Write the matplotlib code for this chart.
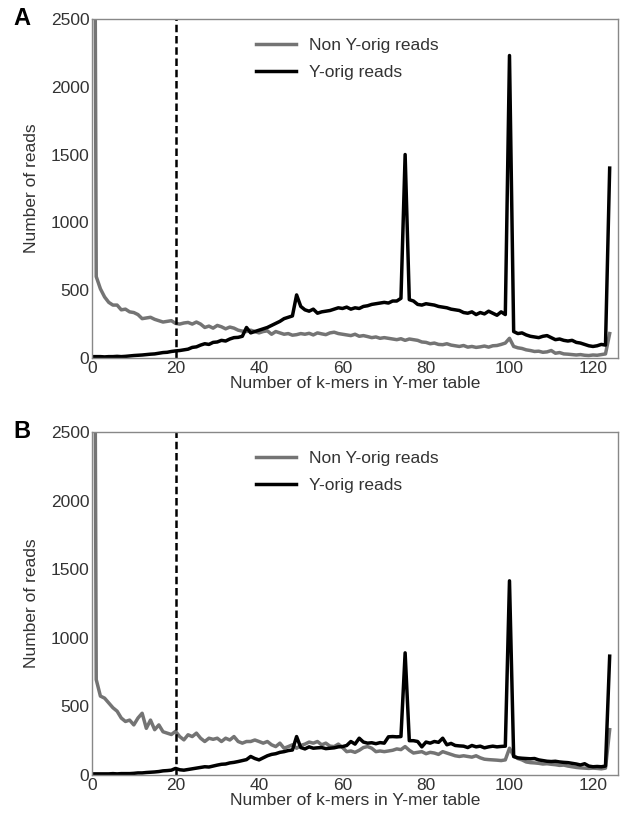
import numpy as np
import matplotlib.pyplot as plt

plt.rcParams['font.family'] = ['Liberation Sans', 'DejaVu Sans']

kmers = np.arange(0, 125)

# panel A
a_non_y = [9000, 600, 510, 450, 410, 390, 390, 355, 360, 340,
           335, 320, 290, 295, 300, 285, 275, 265, 270, 275,
           255, 250, 258, 262, 250, 265, 250, 225, 235, 220,
           240, 230, 215, 228, 220, 205, 198, 195, 205, 195,
           185, 195, 200, 175, 195, 185, 175, 180, 168, 172,
           180, 175, 182, 170, 185, 178, 172, 185, 190, 180,
           175, 170, 165, 175, 160, 165, 158, 150, 155, 145,
           150, 145, 140, 135, 142, 130, 140, 135, 130, 118,
           115, 105, 110, 100, 98, 105, 95, 90, 85, 92,
           80, 85, 78, 82, 88, 80, 90, 92, 100, 110,
           145, 85, 75, 70, 60, 55, 48, 50, 42, 45,
           55, 35, 40, 30, 28, 25, 22, 25, 20, 18,
           22, 20, 25, 30, 180]
a_y_orig = [10, 10, 10, 8, 10, 10, 12, 10, 12, 15,
            18, 20, 22, 25, 28, 30, 35, 40, 42, 48,
            52, 55, 60, 65, 78, 82, 95, 105, 100, 115,
            118, 130, 125, 140, 150, 152, 160, 225, 185, 195,
            205, 215, 225, 240, 255, 270, 290, 300, 310, 465,
            380, 355, 345, 360, 330, 340, 345, 350, 360, 370,
            365, 375, 360, 370, 365, 380, 385, 395, 400, 405,
            410, 405, 420, 420, 440, 1500, 430, 420, 395, 390,
            400, 395, 390, 380, 375, 370, 360, 355, 350, 335,
            330, 340, 320, 335, 325, 345, 330, 315, 340, 320,
            2230, 195, 180, 185, 170, 160, 155, 150, 160, 165,
            150, 135, 140, 130, 125, 130, 115, 110, 100, 90,
            85, 90, 100, 95, 1400]

# panel B
b_non_y = [9000, 695, 575, 560, 525, 490, 465, 415, 390, 400,
           365, 415, 450, 340, 400, 330, 365, 315, 305, 295,
           318, 280, 256, 293, 280, 305, 268, 244, 268, 260,
           268, 244, 268, 255, 280, 244, 232, 244, 244, 255,
           244, 232, 244, 220, 207, 232, 195, 207, 220, 195,
           215, 225, 240, 232, 244, 220, 232, 210, 207, 225,
           200, 170, 175, 165, 180, 200, 207, 195, 170, 175,
           170, 175, 180, 190, 185, 207, 180, 160, 165, 170,
           155, 165, 160, 150, 170, 160, 150, 140, 135, 140,
           135, 130, 140, 125, 115, 112, 110, 108, 105, 110,
           195, 140, 120, 110, 95, 90, 88, 85, 80, 82,
           78, 75, 70, 72, 65, 60, 55, 52, 50, 48,
           50, 48, 45, 50, 330]
b_y_orig = [8, 8, 8, 8, 8, 10, 8, 10, 10, 10,
            12, 15, 15, 18, 20, 22, 25, 30, 32, 35,
            48, 38, 35, 40, 45, 50, 55, 60, 58, 65,
            72, 78, 80, 88, 92, 98, 105, 112, 135, 120,
            110, 125, 140, 150, 155, 165, 170, 178, 182, 280,
            200, 190, 205, 195, 198, 200, 192, 195, 198, 205,
            207, 215, 244, 225, 268, 240, 232, 235, 228, 236,
            232, 278, 280, 278, 280, 890, 250, 250, 244, 205,
            240, 232, 244, 238, 268, 220, 230, 215, 212, 210,
            200, 215, 205, 210, 198, 205, 210, 205, 208, 210,
            1415, 134, 125, 122, 120, 118, 120, 110, 105, 100,
            98, 100, 95, 92, 90, 85, 80, 73, 82, 65,
            60, 62, 60, 65, 866]

panels = [('A', a_non_y, a_y_orig), ('B', b_non_y, b_y_orig)]

fig = plt.figure(figsize=(6.22, 8.22), dpi=100)
boxes = [[0.148, 0.5645, 0.8456, 0.4125], [0.148, 0.0572, 0.8456, 0.4173]]

for (letter, non_y, y_orig), box in zip(panels, boxes):
    ax = fig.add_axes(box)
    ax.plot(kmers, non_y, color='#747474', lw=2.5, label='Non Y-orig reads')
    ax.plot(kmers, y_orig, color='black', lw=2.5, label='Y-orig reads')
    ax.axvline(20, color='black', lw=1.8, ls=(0, (3, 1.5)))
    ax.set_xlim(0, 126)
    ax.set_ylim(0, 2500)
    ax.set_xticks([0, 20, 40, 60, 80, 100, 120])
    ax.set_yticks([0, 500, 1000, 1500, 2000, 2500])
    ax.tick_params(length=0, labelsize=12.5, colors='#333333', pad=2)
    for s in ax.spines.values():
        s.set_color('#888888')
        s.set_linewidth(1.0)
    ax.set_xlabel('Number of k-mers in Y-mer table', fontsize=12.5, color='#333333', labelpad=0)
    ax.set_ylabel('Number of reads', fontsize=12.5, color='#333333', labelpad=8)
    leg = ax.legend(loc='upper center', bbox_to_anchor=(0.485, 0.99), frameon=False,
                    fontsize=12.5, handlelength=2.3, handletextpad=0.75, labelspacing=0.7)
    for t in leg.get_texts():
        t.set_color('#333333')
    ax.text(-0.15, 1.0, letter, transform=ax.transAxes, fontsize=17,
            fontweight='bold', va='center', ha='left')

fig.savefig('out.png', dpi=100)
